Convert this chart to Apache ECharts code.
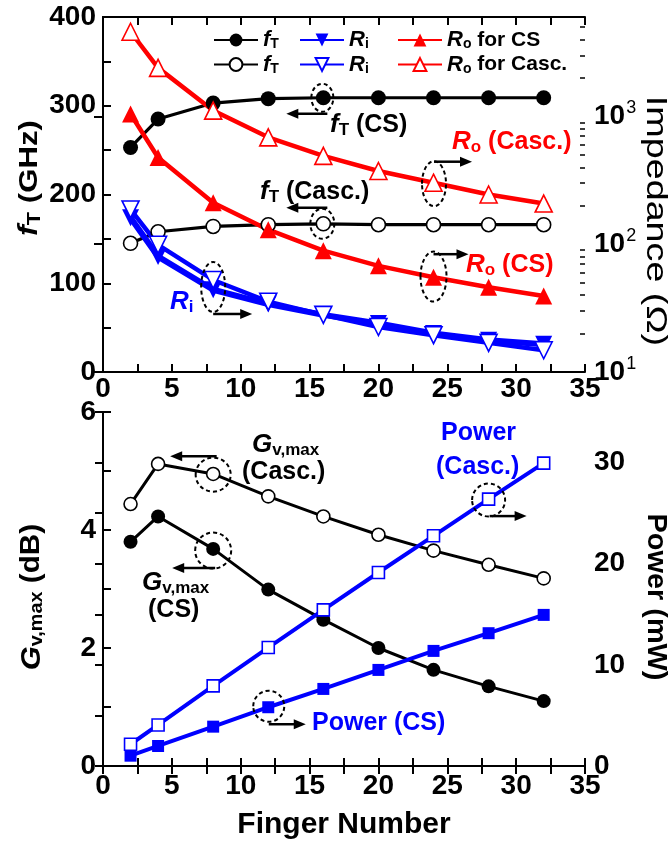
<!DOCTYPE html>
<html><head><meta charset="utf-8">
<script src="https://cdn.jsdelivr.net/npm/echarts@6/dist/echarts.min.js"></script>
<style>html,body{margin:0;padding:0;background:#fff}#c{width:668px;height:844px}</style>
</head><body><div id="c"></div><script>
// ---------- data ----------
const fingers = [2, 4, 8, 12, 16, 20, 24, 28, 32];
const fT_CS   = [253, 285, 303, 308, 309, 309, 309, 309, 309];
const fT_Casc = [145, 158, 164, 166, 167, 166, 166, 166, 166];
const Ri_CS   = [161, 80, 44, 34, 28, 24, 20, 17.7, 16.5];
const Ri_Casc = [187, 99, 52.5, 35.5, 28, 22.5, 19.4, 16.9, 14.8];
const Ro_CS   = [1046, 477, 211, 130, 89, 67.7, 55.2, 46, 39.3];
const Ro_Casc = [4600, 2398, 1111, 686, 491, 374, 303, 245, 208];
const Gv_CS   = [3.80, 4.23, 3.68, 2.99, 2.48, 2.00, 1.63, 1.35, 1.10];
const Gv_Casc = [4.44, 5.12, 4.95, 4.57, 4.23, 3.92, 3.65, 3.41, 3.18];
const P_CS    = [1.02, 1.98, 3.89, 5.81, 7.62, 9.50, 11.38, 13.13, 14.94];
const P_Casc  = [2.15, 4.06, 7.92, 11.71, 15.44, 19.13, 22.76, 26.39, 29.95];
const impMajor = [10, 100, 1000];
const impMinor = [20,30,40,50,60,70,80,90,200,300,400,500,600,700,800,900,2000,3000,4000,5000,6000];

const FF = "'Liberation Sans', Arial, sans-serif";
const BLUE = '#0000ff', RED = '#ff0000', BLK = '#000000';
const pairs = ys => fingers.map((x, i) => [x, ys[i]]);

const lbl = {fontFamily: FF, fontSize: 28, fontWeight: 'bold', color: BLK};
const tick = {show: true, inside: true, length: 8, lineStyle: {color: BLK, width: 2}};
const aline = {show: true, lineStyle: {color: BLK, width: 2}};

function xAx(grid, pos, showLbl, margin) {
  return {type: 'value', gridIndex: grid, position: pos, min: 0, max: 35, interval: 2.5,
    axisLine: aline, axisTick: tick, splitLine: {show: false},
    axisLabel: Object.assign({show: showLbl, margin: margin,
      formatter: v => (v % 5 === 0 ? String(v) : '')}, lbl)};
}

function rich(color, big, weight) {
  const s = big || 25;
  const w = weight || 'bold';
  return {
    n: {fontFamily: FF, fontSize: s, fontWeight: w, color: color, verticalAlign: 'middle'},
    i: {fontFamily: FF, fontSize: s + 1, fontWeight: 'bold', fontStyle: 'italic', color: color, verticalAlign: 'middle'},
    s: {fontFamily: FF, fontSize: Math.round(s * 0.68), fontWeight: 'bold', color: color, verticalAlign: 'middle', padding: [10, 0, 0, 0]}
  };
}

function lineSeries(name, ys, xi, yi, color, symbol, filled, size, width, rot) {
  return {
    name: name, type: 'line', xAxisIndex: xi, yAxisIndex: yi, data: pairs(ys),
    symbol: symbol, symbolSize: size, symbolRotate: rot || 0, showAllSymbol: true,
    lineStyle: {color: color, width: width},
    itemStyle: {color: filled ? color : '#ffffff', borderColor: color, borderWidth: filled ? 0 : 1.6},
    emphasis: {disabled: true}
  };
}

const legendNames = {
  'fT CS': '{i|f}{s|T}', 'fT Casc': '{i|f}{s|T}',
  'Ri CS': '{i|R}{s|i}', 'Ri Casc': '{i|R}{s|i}',
  'Ro CS': '{i|R}{s|o}{n| for CS}', 'Ro Casc': '{i|R}{s|o}{n| for Casc.}'
};
function legend(names, left) {
  const r = rich(BLK, 21);
  r.s.padding = [9, 0, 0, 0];
  return {data: names, orient: 'vertical', left: left, top: 29, itemWidth: 44, itemHeight: 16,
    itemGap: 2, padding: 0, selectedMode: false,
    formatter: n => legendNames[n],
    textStyle: {rich: r, fontSize: 21, fontFamily: FF, fontWeight: 'bold', color: BLK}};
}

const option = {
  animation: false,
  backgroundColor: '#ffffff',
  grid: [
    {left: 103, right: 83, top: 17, height: 355, containLabel: false},
    {left: 103, right: 83, top: 412, height: 354, containLabel: false}
  ],
  xAxis: [xAx(0, 'bottom', true, 3), xAx(0, 'top', false, 0), xAx(1, 'bottom', true, 6), xAx(1, 'top', false, 0)],
  yAxis: [
    {type: 'value', gridIndex: 0, position: 'left', min: 0, max: 400, interval: 50,
      axisLine: aline, axisTick: tick, splitLine: {show: false},
      axisLabel: Object.assign({margin: 7, formatter: v => (v % 100 === 0 ? String(v) : '')}, lbl)},
    {type: 'log', gridIndex: 0, position: 'right', min: 10, max: 6000, logBase: 10,
      axisLine: aline, splitLine: {show: false},
      axisTick: Object.assign({}, tick, {length: 9, customValues: impMajor}),
      axisLabel: {customValues: impMajor, margin: 9,
        formatter: v => '{b|10}{p|' + Math.round(Math.log10(v)) + '}',
        rich: {b: {fontFamily: FF, fontSize: 28, fontWeight: 'bold', color: BLK, verticalAlign: 'middle'},
               p: {fontFamily: FF, fontSize: 18, color: BLK, verticalAlign: 'middle', padding: [0, 0, 16, 1]}}}},
    {type: 'log', gridIndex: 0, position: 'right', min: 10, max: 6000, logBase: 10,
      axisLine: {show: false}, splitLine: {show: false}, axisLabel: {show: false},
      axisTick: {show: true, inside: true, length: 5, customValues: impMinor, lineStyle: {color: BLK, width: 1.5}}},
    {type: 'value', gridIndex: 1, position: 'left', min: 0, max: 6, interval: 1,
      axisLine: aline, axisTick: tick, splitLine: {show: false},
      axisLabel: Object.assign({margin: 7, formatter: v => (v % 2 === 0 ? String(v) : '')}, lbl)},
    {type: 'value', gridIndex: 1, position: 'right', min: 0, max: 35, interval: 5,
      axisLine: aline, axisTick: tick, splitLine: {show: false},
      axisLabel: Object.assign({margin: 9, formatter: v => (v % 10 === 0 && v < 35 ? String(v) : '')}, lbl)}
  ],
  legend: [legend(['fT CS', 'fT Casc'], 213), legend(['Ri CS', 'Ri Casc'], 299), legend(['Ro CS', 'Ro Casc'], 397)],
  series: [
    lineSeries('fT CS', fT_CS, 0, 0, BLK, 'circle', true, 15, 3.2),
    lineSeries('fT Casc', fT_Casc, 0, 0, BLK, 'circle', false, 14, 3.2),
    lineSeries('Ri CS', Ri_CS, 0, 1, BLUE, 'triangle', true, 17, 6, 180),
    lineSeries('Ri Casc', Ri_Casc, 0, 1, BLUE, 'triangle', false, 17, 4.5, 180),
    lineSeries('Ro CS', Ro_CS, 0, 1, RED, 'triangle', true, 17, 4.5),
    lineSeries('Ro Casc', Ro_Casc, 0, 1, RED, 'triangle', false, 17, 4.5),
    lineSeries('Gv CS', Gv_CS, 2, 3, BLK, 'circle', true, 14, 3),
    lineSeries('Gv Casc', Gv_Casc, 2, 3, BLK, 'circle', false, 13, 3),
    lineSeries('P CS', P_CS, 2, 4, BLUE, 'rect', true, 12, 4),
    lineSeries('P Casc', P_Casc, 2, 4, BLUE, 'rect', false, 12, 4)
  ]
};

const chart = echarts.init(document.getElementById('c'), null, {renderer: 'canvas'});
chart.setOption(option);

// ---------- annotations ----------
const g = [];
function ell(si, xv, yv, rx, ry, dx, dy) {
  const p = chart.convertToPixel({seriesIndex: si}, [xv, yv]);
  const c = [p[0] + dx, p[1] + dy];
  g.push({type: 'ellipse', z: 100, shape: {cx: c[0], cy: c[1], rx: rx, ry: ry},
    style: {fill: null, stroke: BLK, lineWidth: 2, lineDash: [4, 3]}});
  return c;
}
function arrow(x1, y, x2) {
  const d = x2 > x1 ? 1 : -1;
  g.push({type: 'line', z: 100, shape: {x1: x1, y1: y, x2: x2 - d * 8, y2: y}, style: {stroke: BLK, lineWidth: 2.5}});
  g.push({type: 'polygon', z: 100, shape: {points: [[x2, y], [x2 - d * 12, y - 5], [x2 - d * 12, y + 5]]}, style: {fill: BLK}});
}
function txt(x, y, t, color, size, rot, sx, align, weight) {
  g.push({type: 'text', z: 101, x: x, y: y, rotation: rot || 0, scaleX: sx || 1, scaleY: 1,
    style: {text: t, rich: rich(color, size, weight), fill: color, align: align || 'left', verticalAlign: 'middle',
      textAlign: align || 'left', textVerticalAlign: 'middle'}});
}

let c;
c = ell(0, 16, fT_CS[4], 11, 14, -1, 0);      arrow(c[0] + 5, c[1] + 16, c[0] - 36);
c = ell(1, 16, fT_Casc[4], 12, 15, -1, 0);    arrow(c[0] + 5, c[1] - 16, c[0] - 36);
c = ell(3, 8, Ri_Casc[2], 12, 25, 0, 7);      arrow(c[0], c[1] + 27, c[0] + 39);
c = ell(5, 24, Ro_Casc[6], 12, 22.5, 0.5, 1); arrow(c[0], c[1] - 22, c[0] + 38);
c = ell(4, 24, Ro_CS[6], 13, 25, 0, -0.6);    arrow(c[0], c[1] - 22.4, c[0] + 35);
c = ell(7, 8, Gv_Casc[2], 17.5, 17, 0, 0.7);  arrow(c[0] + 3.5, c[1] - 18.3, c[0] - 43);
c = ell(6, 8, Gv_CS[2], 18, 18, 0, 1.7);      arrow(c[0] + 2, c[1] + 17.3, c[0] - 41);
c = ell(8, 12, P_CS[3], 15.5, 15.5, 0.5, -1); arrow(c[0], c[1] + 18, c[0] + 37);
c = ell(9, 28, P_Casc[7], 16.5, 16.5, 0, 1);  arrow(c[0] + 1, c[1] + 16, c[0] + 38);

txt(330, 125, '{i|f}{s|T}{n| (CS)}', BLK, 25);
txt(260, 192, '{i|f}{s|T}{n| (Casc.)}', BLK, 25);
txt(170, 302, '{i|R}{s|i}', BLUE, 25);
txt(452, 142, '{i|R}{s|o}{n| (Casc.)}', RED, 25);
txt(466, 265, '{i|R}{s|o}{n| (CS)}', RED, 25);
txt(252, 445, '{i|G}{s|v,max}', BLK, 25);
txt(242, 472, '{n|(Casc.)}', BLK, 25);
txt(142, 583, '{i|G}{s|v,max}', BLK, 25);
txt(148, 610, '{n|(CS)}', BLK, 25);
txt(312, 723, '{n|Power (CS)}', BLUE, 25);
txt(441, 433, '{n|Power}', BLUE, 25);
txt(436, 467, '{n|(Casc.)}', BLUE, 25);

// axis titles
txt(30, 178, '{i|f}{s|T}{n| (GHz)}', BLK, 26, Math.PI / 2, 1.2, 'center');
txt(655, 221, '{n|Impedance (Ω)}', BLK, 29, -Math.PI / 2, 1.3, 'center', 'normal');
txt(32, 597, '{i|G}{s|v,max}{n| (dB)}', BLK, 27, Math.PI / 2, 1.1, 'center');
txt(655, 597, '{n|Power (mW)}', BLK, 27, -Math.PI / 2, 1.07, 'center');
txt(344, 825, '{n|Finger Number}', BLK, 30, 0, 1, 'center');

chart.setOption({graphic: {elements: g}});
</script></body></html>
